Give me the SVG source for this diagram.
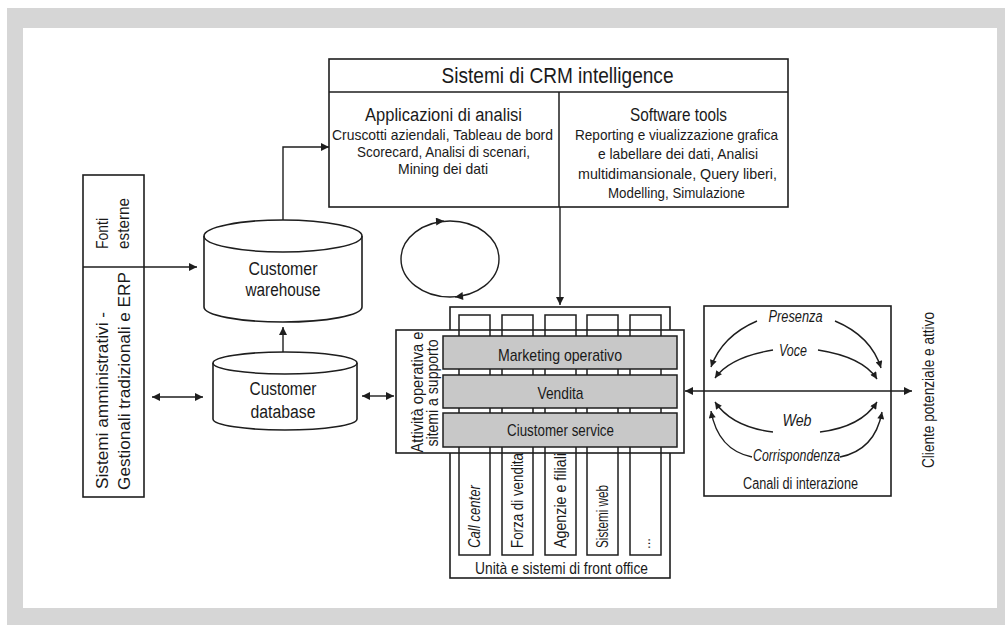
<svg xmlns="http://www.w3.org/2000/svg" width="1005" height="625" viewBox="0 0 1005 625">
<defs>
<style>
.t{font-family:"Liberation Sans",Arial,sans-serif;fill:#1a1a1a;text-anchor:middle;}
.s{text-anchor:start;}
.i{font-style:italic;}
.b{fill:#fff;stroke:#1e1e1e;stroke-width:1.6;}
.n{fill:none;stroke:#1e1e1e;stroke-width:1.5;}
.bar{fill:#c8c8c8;stroke:#1e1e1e;stroke-width:1.5;}
.c{fill:none;stroke:#1e1e1e;stroke-width:1.4;}
</style>
<marker id="ah" viewBox="0 0 10 10" refX="10" refY="5" markerWidth="9" markerHeight="8" markerUnits="userSpaceOnUse" orient="auto-start-reverse">
<path d="M0,0 L10,5 L0,10 z" fill="#1e1e1e"/>
</marker>
<marker id="as" viewBox="0 0 10 10" refX="10" refY="5" markerWidth="8" markerHeight="7" markerUnits="userSpaceOnUse" orient="auto">
<path d="M0,0 L10,5 L0,10 z" fill="#1e1e1e"/>
</marker>
</defs>

<g id="background">
<rect x="0" y="0" width="1005" height="625" fill="#fff"/>
<rect x="7" y="8" width="998" height="617" fill="#d6d6d6"/>
<rect x="23" y="28" width="974" height="580" fill="#fff"/>
</g>

<g id="crm-intelligence">
<rect class="b" x="329" y="59" width="459" height="148"/>
<line class="n" x1="329" y1="92" x2="788" y2="92"/>
<line class="n" x1="559" y1="92" x2="559" y2="207"/>
<text class="t" x="557.5" y="83" font-size="22" textLength="232" lengthAdjust="spacingAndGlyphs">Sistemi di CRM intelligence</text>
<text class="t" x="443.5" y="121" font-size="18" textLength="157" lengthAdjust="spacingAndGlyphs">Applicazioni di analisi</text>
<text class="t" x="442.5" y="139.5" font-size="15" textLength="221" lengthAdjust="spacingAndGlyphs">Cruscotti aziendali, Tableau de bord</text>
<text class="t" x="443.5" y="156.5" font-size="15" textLength="173" lengthAdjust="spacingAndGlyphs">Scorecard, Analisi di scenari,</text>
<text class="t" x="443" y="173.5" font-size="15" textLength="90" lengthAdjust="spacingAndGlyphs">Mining dei dati</text>
<text class="t" x="678.5" y="121" font-size="18" textLength="97" lengthAdjust="spacingAndGlyphs">Software tools</text>
<text class="t" x="676.5" y="140" font-size="15" textLength="203" lengthAdjust="spacingAndGlyphs">Reporting e viualizzazione grafica</text>
<text class="t" x="678" y="159" font-size="15" textLength="160" lengthAdjust="spacingAndGlyphs">e labellare dei dati, Analisi</text>
<text class="t" x="677.5" y="178.5" font-size="15" textLength="199" lengthAdjust="spacingAndGlyphs">multidimansionale, Query liberi,</text>
<text class="t" x="676.5" y="197.5" font-size="15" textLength="137" lengthAdjust="spacingAndGlyphs">Modelling, Simulazione</text>
</g>

<g id="fonti-sistemi">
<rect class="b" x="83" y="175" width="61" height="322"/>
<line class="n" x1="83" y1="267" x2="144" y2="267"/>
<text class="t s" transform="translate(107.5,249) rotate(-90)" font-size="17" textLength="31" lengthAdjust="spacingAndGlyphs">Fonti</text>
<text class="t s" transform="translate(128.5,249) rotate(-90)" font-size="17" textLength="51" lengthAdjust="spacingAndGlyphs">esterne</text>
<text class="t s" transform="translate(108,489) rotate(-90)" font-size="17" textLength="177" lengthAdjust="spacingAndGlyphs">Sistemi amministrativi -</text>
<text class="t s" transform="translate(130,490) rotate(-90)" font-size="17" textLength="218" lengthAdjust="spacingAndGlyphs">Gestionali tradizionali e ERP</text>
</g>

<g id="customer-warehouse">
<path class="b" d="M204,236 A79,16 0 0 1 362,236 V307 A79,15 0 0 1 204,307 Z"/>
<path class="n" d="M204,236 A79,16 0 0 0 362,236"/>
<text class="t" x="283" y="274.5" font-size="18" textLength="69" lengthAdjust="spacingAndGlyphs">Customer</text>
<text class="t" x="283" y="295.5" font-size="18" textLength="75" lengthAdjust="spacingAndGlyphs">warehouse</text>
</g>

<g id="customer-database">
<path class="b" d="M213,363 A72,11 0 0 1 357,363 V419 A72,11 0 0 1 213,419 Z"/>
<path class="n" d="M213,363 A72,11 0 0 0 357,363"/>
<text class="t" x="283" y="394.5" font-size="18" textLength="67" lengthAdjust="spacingAndGlyphs">Customer</text>
<text class="t" x="283" y="418" font-size="18" textLength="65" lengthAdjust="spacingAndGlyphs">database</text>
</g>

<g id="front-office">
<rect class="b" x="450" y="307" width="220" height="271"/>
<text class="t" x="561.5" y="573.5" font-size="17" textLength="173" lengthAdjust="spacingAndGlyphs">Unità e sistemi di front office</text>
</g>

<g id="attivita-operativa">
<rect class="b" x="396" y="330" width="288" height="123"/>
<text class="t" transform="translate(423,392) rotate(-90)" font-size="16" textLength="121" lengthAdjust="spacingAndGlyphs">Attività operativa e</text>
<text class="t" transform="translate(437.5,393) rotate(-90)" font-size="16" textLength="107" lengthAdjust="spacingAndGlyphs">sitemi a supporto</text>
</g>

<g id="front-office-units">
<rect class="n" x="459" y="315" width="31" height="240"/>
<rect class="n" x="502" y="315" width="31" height="240"/>
<rect class="n" x="545" y="315" width="31" height="240"/>
<rect class="n" x="587" y="315" width="31" height="240"/>
<rect class="n" x="630" y="315" width="31" height="240"/>
<text class="t s i" transform="translate(479.5,548) rotate(-90)" font-size="17" textLength="63" lengthAdjust="spacingAndGlyphs">Call center</text>
<text class="t s" transform="translate(522.5,548) rotate(-90)" font-size="17" textLength="95" lengthAdjust="spacingAndGlyphs">Forza di vendita</text>
<text class="t s" transform="translate(565.5,548) rotate(-90)" font-size="17" textLength="95" lengthAdjust="spacingAndGlyphs">Agenzie e filiali</text>
<text class="t s" transform="translate(608,548) rotate(-90)" font-size="17" textLength="63" lengthAdjust="spacingAndGlyphs">Sistemi web</text>
<text class="t s" transform="translate(650,549) rotate(-90)" font-size="14" textLength="11" lengthAdjust="spacingAndGlyphs">...</text>
</g>

<g id="marketing-operativo">
<rect class="bar" x="443" y="336" width="234" height="33"/>
<text class="t" x="560" y="361" font-size="17" textLength="124" lengthAdjust="spacingAndGlyphs">Marketing operativo</text>
</g>
<g id="vendita">
<rect class="bar" x="443" y="375" width="234" height="33"/>
<text class="t" x="560.5" y="399" font-size="17" textLength="46" lengthAdjust="spacingAndGlyphs">Vendita</text>
</g>
<g id="customer-service">
<rect class="bar" x="443" y="413" width="234" height="34"/>
<text class="t" x="560.5" y="436" font-size="17" textLength="107" lengthAdjust="spacingAndGlyphs">Ciustomer service</text>
</g>

<g id="canali-interazione">
<rect class="b" x="704" y="306" width="187" height="190"/>
<text class="t" x="800.5" y="489" font-size="16" textLength="115" lengthAdjust="spacingAndGlyphs">Canali di interazione</text>
<text class="t i" x="795.5" y="322" font-size="16" textLength="54" lengthAdjust="spacingAndGlyphs">Presenza</text>
<text class="t i" x="793" y="356" font-size="16" textLength="28" lengthAdjust="spacingAndGlyphs">Voce</text>
<text class="t i" x="797" y="426" font-size="16" textLength="29" lengthAdjust="spacingAndGlyphs">Web</text>
<text class="t i" x="796.5" y="460.5" font-size="16" textLength="87" lengthAdjust="spacingAndGlyphs">Corrispondenza</text>
</g>

<g id="cliente">
<text class="t s" transform="translate(934,468) rotate(-90)" font-size="16" textLength="156" lengthAdjust="spacingAndGlyphs">Cliente potenziale e attivo</text>
</g>

<g id="connectors">
<path class="c" d="M144,267 H197" marker-end="url(#ah)"/>
<path class="c" d="M283,220 V147 H329" marker-end="url(#ah)"/>
<path class="c" d="M283,352 V327" marker-end="url(#ah)"/>
<path class="c" d="M152,397 H203" marker-start="url(#ah)" marker-end="url(#ah)"/>
<path class="c" d="M362,396 H394" marker-start="url(#ah)" marker-end="url(#ah)"/>
<path class="c" d="M560,207 V305" marker-end="url(#ah)"/>
<path class="c" d="M685,391 H912" marker-start="url(#ah)" marker-end="url(#ah)"/>
<ellipse class="c" cx="450" cy="259" rx="49" ry="38"/>
<path class="c" d="M436,221.6 L444,221.1" marker-end="url(#ah)"/>
<path class="c" d="M463,296 L455,296.9" marker-end="url(#ah)"/>
<path class="c" d="M757,321 Q722,336 711,367" marker-end="url(#as)"/>
<path class="c" d="M835,321 Q871,336 881,368" marker-end="url(#as)"/>
<path class="c" d="M773,350 Q730,357 715,378" marker-end="url(#as)"/>
<path class="c" d="M818,350 Q863,357 877,379" marker-end="url(#as)"/>
<path class="c" d="M773,432 Q732,427 715,402" marker-end="url(#as)"/>
<path class="c" d="M820,432 Q861,427 877,402" marker-end="url(#as)"/>
<path class="c" d="M752,457 Q718,450 711,411" marker-end="url(#as)"/>
<path class="c" d="M840,457 Q875,450 882,412" marker-end="url(#as)"/>
</g>
</svg>
